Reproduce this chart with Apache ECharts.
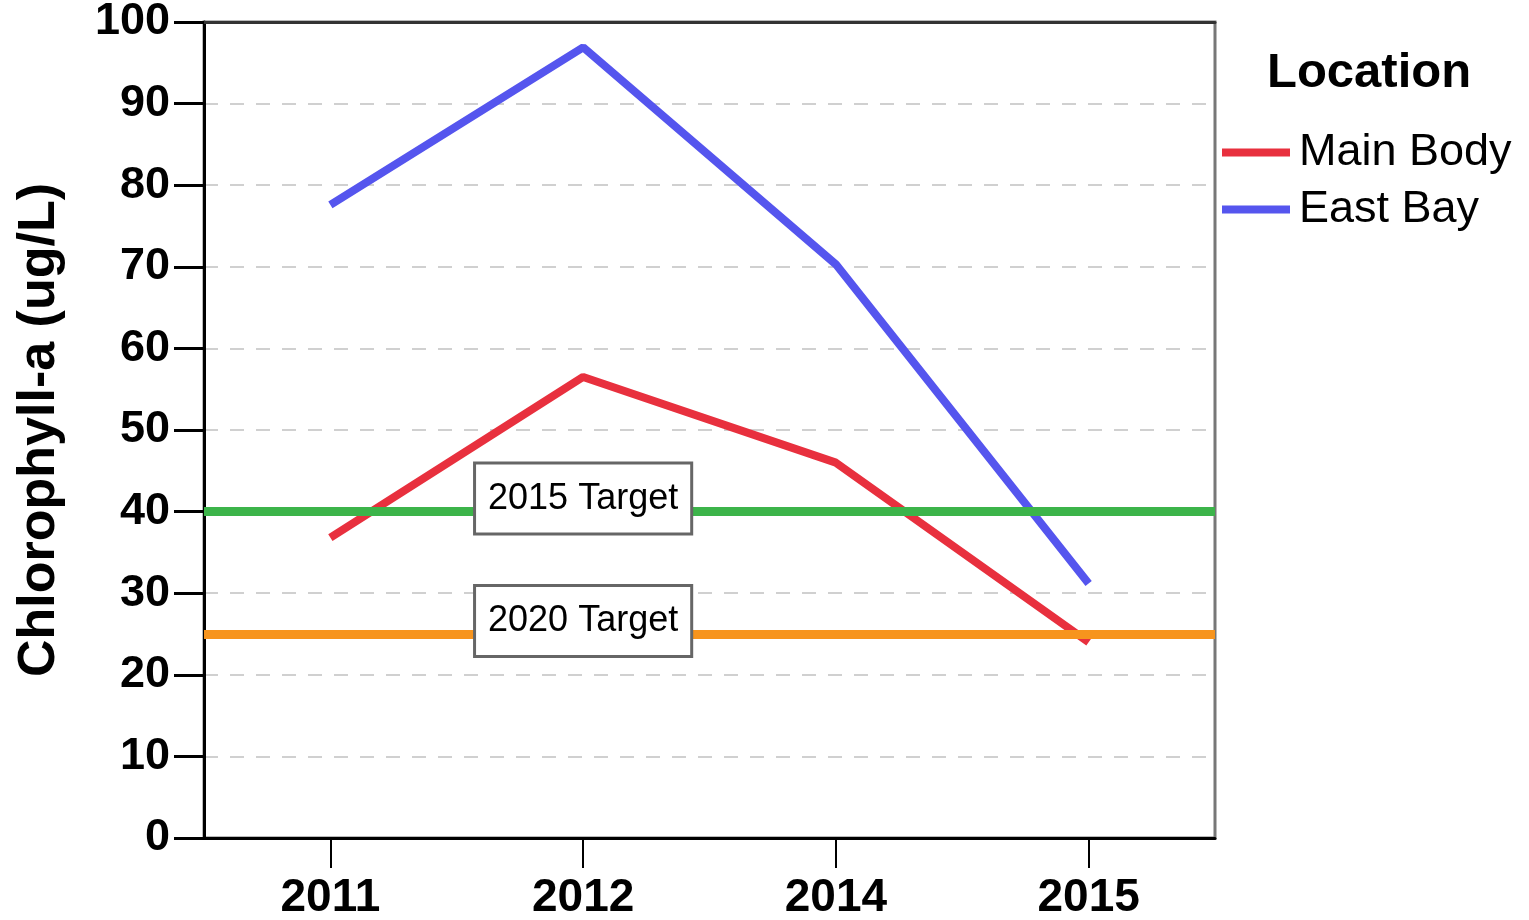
<!DOCTYPE html>
<html>
<head>
<meta charset="utf-8">
<script src="https://cdn.jsdelivr.net/npm/echarts@6/dist/echarts.min.js"></script>
<style>html,body{margin:0;padding:0;background:#fff;}#c{width:1529px;height:920px;}</style>
</head>
<body>
<div id="c"></div>
<script>
const categories = ['2011', '2012', '2014', '2015'];
const mainBody = [36.8, 56.5, 46, 24];
const eastBay = [77.6, 96.9, 70.3, 31.2];
const targets = [
  { name: '2015 Target', value: 40, at: '2012' },
  { name: '2020 Target', value: 25, at: '2012' }
];
const yTicks = { min: 0, max: 100, interval: 10 };
const FONT = 'Liberation Sans, Arial, sans-serif';

const chart = echarts.init(document.getElementById('c'), null, { renderer: 'canvas' });
chart.setOption({
  animation: false,
  backgroundColor: '#fff',
  title: {
    text: 'Location',
    left: 1262, top: 44,
    textStyle: { fontFamily: FONT, fontWeight: 'bold', fontSize: 49, color: '#000' }
  },
  legend: {
    orient: 'vertical',
    left: 1222, top: 130, padding: 0,
    itemWidth: 68, itemHeight: 8, itemGap: 12,
    icon: 'rect',
    data: ['Main Body', 'East Bay'],
    textStyle: { fontFamily: FONT, fontSize: 45, color: '#000', padding: [2, 0, 0, 4] }
  },
  grid: {
    left: 204, right: 314, top: 22, bottom: 82,
    containLabel: false, outerBoundsMode: 'none',
    show: true, borderColor: '#777', borderWidth: 3, backgroundColor: 'transparent'
  },
  xAxis: [{
    type: 'category',
    data: categories,
    boundaryGap: true,
    axisLine: { lineStyle: { color: '#000', width: 3 } },
    axisTick: { show: true, alignWithLabel: true, length: 30, lineStyle: { color: '#000', width: 2 } },
    axisLabel: { margin: 37, fontFamily: FONT, fontWeight: 'bold', fontSize: 46, color: '#000' },
    splitLine: { show: false }
  }, {
    type: 'category',
    data: categories,
    position: 'top',
    axisLine: { show: true, lineStyle: { color: '#333', width: 3 } },
    axisTick: { show: false },
    axisLabel: { show: false },
    splitLine: { show: false }
  }],
  yAxis: {
    type: 'value',
    min: yTicks.min, max: yTicks.max, interval: yTicks.interval,
    name: 'Chlorophyll-a (ug/L)',
    nameLocation: 'middle', nameRotate: 90, nameGap: 138,
    nameTextStyle: { fontFamily: FONT, fontWeight: 'bold', fontSize: 52, color: '#000' },
    axisLine: { show: true, lineStyle: { color: '#000', width: 3 } },
    axisTick: { show: true, length: 30, lineStyle: { color: '#000', width: 3 } },
    axisLabel: { margin: 34, fontFamily: FONT, fontWeight: 'bold', fontSize: 45, color: '#000' },
    splitLine: { show: true, lineStyle: { color: '#d0d0d0', type: [14, 12], width: 2 } }
  },
  series: [
    {
      name: 'Target lines', type: 'line', data: [], silent: true,
      markLine: {
        symbol: 'none', silent: true, label: { show: false },
        data: [
          { yAxis: targets[0].value, lineStyle: { color: '#3cb44a', width: 9, type: 'solid' } },
          { yAxis: targets[1].value, lineStyle: { color: '#f7941d', width: 9, type: 'solid' } }
        ]
      }
    },
    {
      name: 'Main Body', type: 'line', data: mainBody,
      showSymbol: false, symbol: 'none',
      lineStyle: { color: '#e8303e', width: 8 }, itemStyle: { color: '#e8303e' }
    },
    {
      name: 'East Bay', type: 'line', data: eastBay,
      showSymbol: false, symbol: 'none',
      lineStyle: { color: '#5555ee', width: 8 }, itemStyle: { color: '#5555ee' }
    },
    {
      name: 'Target labels', type: 'scatter', symbolSize: 0, silent: true, z: 10,
      itemStyle: { opacity: 1, color: '#fff' },
      data: targets.map(t => ({ value: [t.at, t.value], name: t.name })),
      label: {
        show: true, position: 'inside', offset: [0, -13], formatter: p => p.name,
        fontFamily: FONT, fontSize: 36, color: '#000', opacity: 1,
        backgroundColor: '#fff', borderColor: '#666', borderWidth: 3,
        padding: [16, 12, 16, 12]
      }
    }
  ]
});
</script>
</body>
</html>
